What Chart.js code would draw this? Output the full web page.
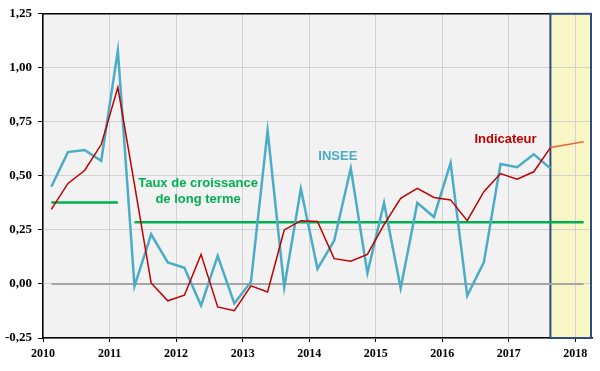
<!DOCTYPE html>
<html>
<head>
<meta charset="utf-8">
<script src="https://cdn.jsdelivr.net/npm/chart.js@4/dist/chart.umd.min.js"></script>
<style>
  html, body { margin: 0; padding: 0; background: #fff; }
  #wrap { width: 600px; height: 371px; }
</style>
</head>
<body>
<div id="wrap"><canvas id="chart"></canvas></div>
<script>
// trimestres 2010T1 .. 2017T3 (INSEE + indicateur)
var quarters = [
  '2010T1','2010T2','2010T3','2010T4','2011T1','2011T2','2011T3','2011T4',
  '2012T1','2012T2','2012T3','2012T4','2013T1','2013T2','2013T3','2013T4',
  '2014T1','2014T2','2014T3','2014T4','2015T1','2015T2','2015T3','2015T4',
  '2016T1','2016T2','2016T3','2016T4','2017T1','2017T2','2017T3'
];
var insee = [
  0.45, 0.61, 0.62, 0.57, 1.08, -0.01, 0.23, 0.10,
  0.075, -0.10, 0.13, -0.09, 0.01, 0.71, -0.015, 0.44,
  0.07, 0.20, 0.535, 0.05, 0.375, -0.02, 0.375, 0.31,
  0.56, -0.055, 0.10, 0.555, 0.54, 0.60, 0.535
];
var indicateur = [
  0.345, 0.465, 0.525, 0.645, 0.91, 0.46, 0.005, -0.078,
  -0.052, 0.137, -0.106, -0.124, -0.009, -0.037, 0.25, 0.293,
  0.289, 0.117, 0.105, 0.137, 0.275, 0.396, 0.442, 0.40,
  0.389, 0.293, 0.427, 0.511, 0.485, 0.519, 0.631
];
// prolongement de l'indicateur (zone jaune)
var previsionQuarters = ['2017T3', '2018T1'];
var prevision = [0.631, 0.658];
// taux de croissance de long terme
var tauxPeriodes = [['2010T1', '2011T1'], ['2011T2', '2018T1']];
var tauxLongTerme = [0.377, 0.285];
var zeroPeriode = ['2010T1', '2018T1'];

var yearTicks = [2010, 2011, 2012, 2013, 2014, 2015, 2016, 2017, 2018];
var yTicks = [-0.25, 0, 0.25, 0.5, 0.75, 1, 1.25];
var forecastStart = '2017T3';

// position d'un trimestre sur l'axe (milieu du trimestre)
function qx(label) {
  var y = parseInt(label.slice(0, 4), 10);
  var q = parseInt(label.slice(5), 10);
  return y + (q - 1) * 0.25 + 0.125;
}
function pts(labels, values) {
  return labels.map(function(l, i) { return { x: qx(l), y: values[i] }; });
}

var serif = '"Liberation Serif", "Times New Roman", serif';
var noteFont = 'bold 13px "Liberation Sans", Arial, sans-serif';

var decor = {
  id: 'decor',
  beforeDraw: function(chart) {
    var ctx = chart.ctx, a = chart.chartArea;
    var x0 = chart.scales.x.getPixelForValue(qx(forecastStart));
    ctx.save();
    ctx.fillStyle = '#fff';
    ctx.fillRect(0, 0, chart.width, chart.height);
    ctx.fillStyle = '#F2F2F2';
    ctx.fillRect(a.left, a.top, a.right - a.left, a.bottom - a.top);
    ctx.fillStyle = '#F8F6C4';
    ctx.fillRect(x0, a.top, a.right - x0, a.bottom - a.top);
    ctx.restore();
  },
  beforeDatasetsDraw: function(chart) {
    var ctx = chart.ctx, a = chart.chartArea;
    var x0 = chart.scales.x.getPixelForValue(qx(forecastStart));
    ctx.save();
    ctx.strokeStyle = '#000';
    ctx.lineWidth = 1.5;
    ctx.beginPath();
    ctx.moveTo(a.left, a.top);
    ctx.lineTo(x0, a.top);
    ctx.stroke();
    ctx.strokeStyle = '#2E4D7B';
    ctx.lineWidth = 2;
    ctx.strokeRect(x0, a.top, a.right - x0 - 1, a.bottom - a.top);
    ctx.restore();
  },
  afterDatasetsDraw: function(chart) {
    var ctx = chart.ctx, xs = chart.scales.x, ys = chart.scales.y;
    ctx.save();
    ctx.font = noteFont;
    ctx.textAlign = 'center';
    ctx.textBaseline = 'middle';
    ctx.fillStyle = '#00B050';
    ctx.fillText('Taux de croissance', xs.getPixelForValue(2012.33), ys.getPixelForValue(0.464));
    ctx.fillText('de long terme', xs.getPixelForValue(2012.33), ys.getPixelForValue(0.39));
    ctx.fillStyle = '#4BACC6';
    ctx.fillText('INSEE', xs.getPixelForValue(2014.43), ys.getPixelForValue(0.592));
    ctx.fillStyle = '#C00000';
    ctx.fillText('Indicateur', xs.getPixelForValue(2016.95), ys.getPixelForValue(0.671));
    ctx.restore();
  }
};

var ctx = document.getElementById('chart').getContext('2d');
var chart = new Chart(ctx, {
  type: 'line',
  data: {
    datasets: [
      {
        label: 'Indicateur',
        data: pts(quarters, indicateur),
        borderColor: '#C00000',
        borderWidth: 1.5
      },
      {
        label: 'Prévision',
        data: pts(previsionQuarters, prevision),
        borderColor: '#E8663A',
        borderWidth: 1.5
      },
      {
        label: 'INSEE',
        data: pts(quarters, insee),
        borderColor: '#4BACC6',
        borderWidth: 2.5
      },
      {
        label: 'Taux long terme 1',
        data: pts(tauxPeriodes[0], [tauxLongTerme[0], tauxLongTerme[0]]),
        borderColor: '#00B050',
        borderWidth: 2.5
      },
      {
        label: 'Taux long terme 2',
        data: pts(tauxPeriodes[1], [tauxLongTerme[1], tauxLongTerme[1]]),
        borderColor: '#00B050',
        borderWidth: 2.5
      },
      {
        label: 'Zéro',
        data: pts(zeroPeriode, [0, 0]),
        borderColor: '#A6A6A6',
        borderWidth: 2
      }
    ]
  },
  options: {
    responsive: true,
    maintainAspectRatio: false,
    animation: false,
    layout: { padding: { left: 0, right: 8, top: 11, bottom: 0 } },
    elements: { point: { radius: 0 }, line: { tension: 0, fill: false } },
    plugins: { legend: { display: false }, tooltip: { enabled: false } },
    scales: {
      x: {
        type: 'linear',
        min: 2010,
        max: 2018.25,
        afterBuildTicks: function(scale) {
          scale.ticks = yearTicks.map(function(v) { return { value: v }; });
        },
        afterFit: function(scale) { scale.height = 33; },
        ticks: {
          autoSkip: false,
          maxRotation: 0,
          padding: 5,
          color: '#000',
          font: { family: serif, size: 12, weight: 'bold' },
          callback: function(v) { return String(v); }
        },
        grid: { color: '#D2D2D2', tickColor: '#000', tickLength: 4 },
        border: { color: '#000', width: 1.5 }
      },
      y: {
        min: -0.25,
        max: 1.25,
        afterBuildTicks: function(scale) {
          scale.ticks = yTicks.map(function(v) { return { value: v }; });
        },
        afterFit: function(scale) { scale.width = 43; },
        ticks: {
          padding: 6,
          color: '#000',
          font: { family: serif, size: 13, weight: 'bold' },
          callback: function(v) { return v.toFixed(2).replace('.', ','); }
        },
        grid: { color: '#D2D2D2', tickColor: '#000', tickLength: 5 },
        border: { color: '#000', width: 1.5 }
      }
    }
  },
  plugins: [decor]
});
</script>
</body>
</html>
